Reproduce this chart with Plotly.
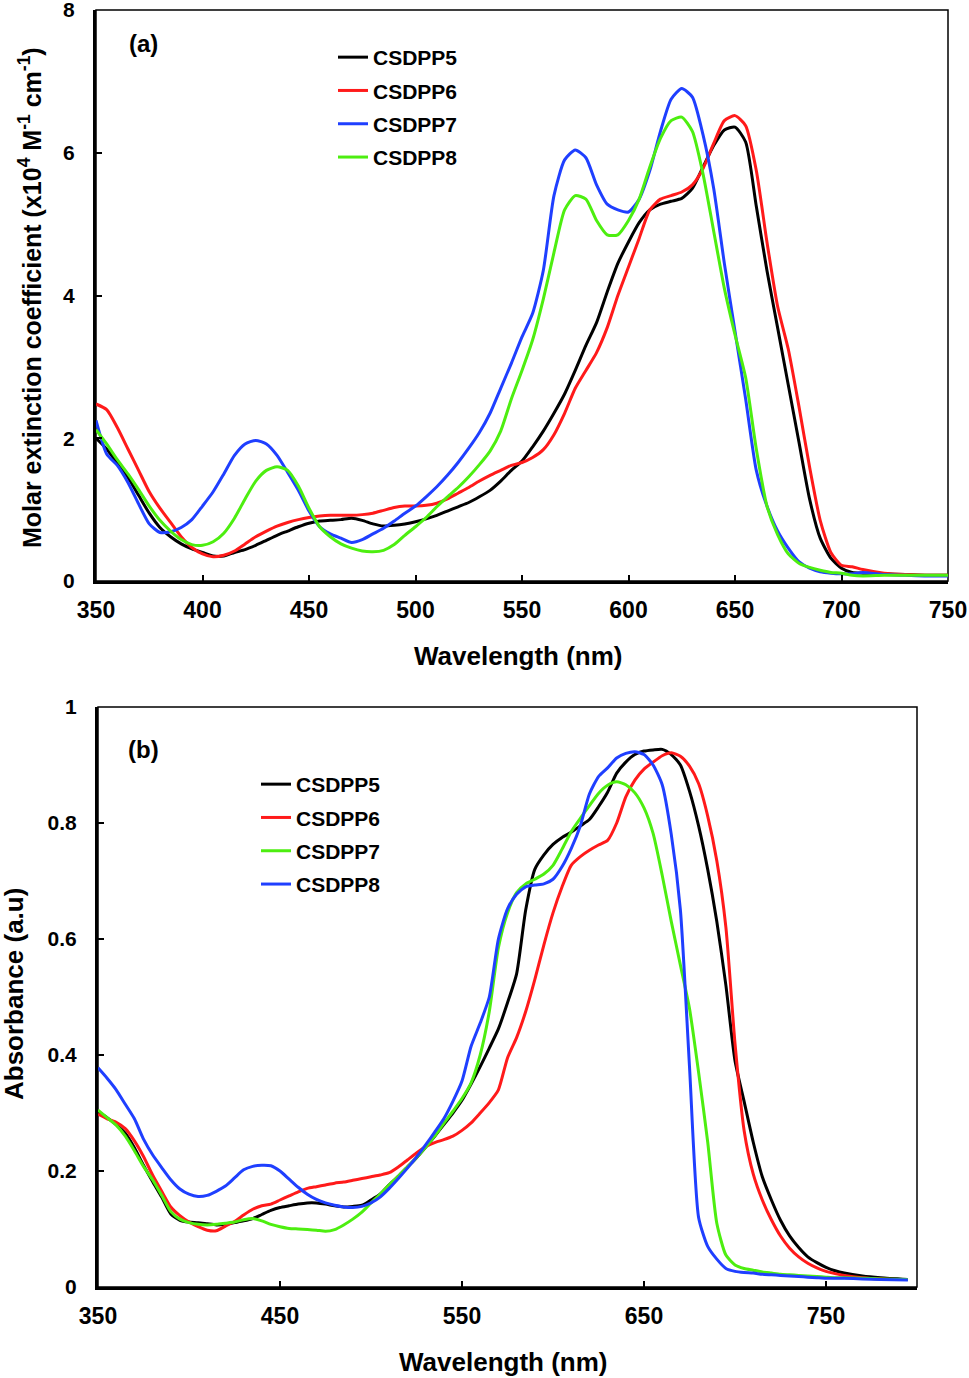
import plotly.graph_objects as go

# ---- panel (a): molar extinction coefficient (x10^4 M-1 cm-1) ----
wl_a = [350, 355, 360, 365, 370, 375, 380, 385, 390, 395,
        400, 405, 410, 415, 420, 425, 430, 435, 440, 445,
        450, 455, 460, 465, 470, 475, 480, 485, 490, 495,
        500, 505, 510, 515, 520, 525, 530, 535, 540, 545,
        550, 555, 560, 565, 570, 575, 580, 585, 590, 595,
        600, 605, 610, 615, 620, 625, 630, 635, 640, 645,
        650, 655, 660, 665, 670, 675, 680, 685, 690, 695,
        700, 705, 710, 720, 730, 740, 750]

eps_csdpp5 = [2.00, 1.85, 1.65, 1.45, 1.20, 0.95, 0.75, 0.62, 0.52, 0.45,
              0.40, 0.35, 0.35, 0.40, 0.44, 0.50, 0.57, 0.64, 0.70, 0.76,
              0.81, 0.84, 0.85, 0.86, 0.88, 0.85, 0.80, 0.77, 0.78, 0.80,
              0.83, 0.87, 0.92, 0.98, 1.04, 1.10, 1.18, 1.27, 1.40, 1.55,
              1.68, 1.88, 2.10, 2.35, 2.62, 2.95, 3.30, 3.62, 4.05, 4.45,
              4.75, 5.02, 5.20, 5.28, 5.32, 5.36, 5.50, 5.80, 6.10, 6.32,
              6.36, 6.15, 5.25, 4.35, 3.55, 2.75, 1.95, 1.15, 0.60, 0.32,
              0.18, 0.12, 0.11, 0.10, 0.09, 0.08, 0.08]

eps_csdpp6 = [2.48, 2.40, 2.15, 1.85, 1.55, 1.25, 1.02, 0.82, 0.62, 0.47,
              0.38, 0.34, 0.36, 0.42, 0.52, 0.62, 0.70, 0.77, 0.82, 0.86,
              0.89, 0.91, 0.92, 0.92, 0.92, 0.93, 0.95, 0.99, 1.03, 1.05,
              1.05, 1.06, 1.09, 1.15, 1.23, 1.31, 1.40, 1.48, 1.55, 1.62,
              1.66, 1.73, 1.84, 2.05, 2.35, 2.70, 2.95, 3.20, 3.55, 4.00,
              4.40, 4.80, 5.20, 5.35, 5.40, 5.45, 5.55, 5.78, 6.13, 6.45,
              6.52, 6.38, 5.75, 4.75, 3.85, 3.25, 2.45, 1.60, 0.85, 0.40,
              0.22, 0.20, 0.16, 0.11, 0.09, 0.08, 0.08]

eps_csdpp7 = [2.25, 1.78, 1.62, 1.38, 1.08, 0.80, 0.68, 0.69, 0.75, 0.86,
              1.05, 1.25, 1.50, 1.76, 1.92, 1.97, 1.92, 1.76, 1.52, 1.27,
              0.98, 0.76, 0.66, 0.60, 0.54, 0.58, 0.66, 0.74, 0.84, 0.95,
              1.05, 1.18, 1.32, 1.48, 1.66, 1.86, 2.08, 2.35, 2.70, 3.05,
              3.42, 3.75, 4.35, 5.40, 5.90, 6.04, 5.93, 5.55, 5.28, 5.20,
              5.17, 5.35, 5.75, 6.30, 6.75, 6.90, 6.78, 6.25, 5.50, 4.45,
              3.50, 2.55, 1.55, 1.05, 0.70, 0.46, 0.27, 0.18, 0.13, 0.11,
              0.10, 0.10, 0.12, 0.09, 0.08, 0.07, 0.07]

eps_csdpp8 = [2.12, 1.92, 1.70, 1.50, 1.28, 1.05, 0.85, 0.70, 0.58, 0.51,
              0.50, 0.55, 0.67, 0.88, 1.15, 1.40, 1.55, 1.60, 1.55, 1.33,
              1.02, 0.76, 0.62, 0.52, 0.46, 0.42, 0.41, 0.43, 0.51, 0.64,
              0.76, 0.89, 1.04, 1.18, 1.31, 1.46, 1.63, 1.82, 2.10, 2.55,
              2.95, 3.38, 3.95, 4.60, 5.20, 5.40, 5.35, 5.05, 4.85, 4.85,
              5.05, 5.35, 5.80, 6.20, 6.45, 6.50, 6.30, 5.70, 4.90, 4.10,
              3.45, 2.85, 1.85, 1.05, 0.65, 0.38, 0.25, 0.19, 0.15, 0.12,
              0.11, 0.08, 0.07, 0.08, 0.08, 0.08, 0.08]

# ---- panel (b): absorbance (a.u) ----
wl_b = [350, 355, 360, 365, 370, 375, 380, 385, 390, 395,
        400, 405, 410, 415, 420, 425, 430, 435, 440, 445,
        450, 455, 460, 465, 470, 475, 480, 485, 490, 495,
        500, 505, 510, 515, 520, 525, 530, 535, 540, 545,
        550, 555, 560, 565, 570, 575, 580, 585, 590, 595,
        600, 605, 610, 615, 620, 625, 630, 635, 640, 645,
        650, 655, 660, 665, 670, 675, 680, 685, 690, 695,
        700, 705, 710, 715, 720, 725, 730, 735, 740, 745,
        750, 755, 760, 770, 780, 795]

abs_csdpp5 = [0.302, 0.292, 0.280, 0.265, 0.240, 0.210, 0.182, 0.155, 0.126, 0.115,
              0.112, 0.111, 0.109, 0.107, 0.108, 0.111, 0.114, 0.118, 0.125, 0.132,
              0.137, 0.140, 0.143, 0.145, 0.145, 0.143, 0.140, 0.138, 0.139, 0.141,
              0.150, 0.160, 0.176, 0.191, 0.207, 0.223, 0.241, 0.260, 0.280, 0.300,
              0.322, 0.350, 0.380, 0.412, 0.445, 0.490, 0.540, 0.650, 0.720, 0.745,
              0.763, 0.775, 0.784, 0.795, 0.806, 0.828, 0.853, 0.886, 0.905, 0.918,
              0.924, 0.926, 0.927, 0.918, 0.900, 0.855, 0.795, 0.720, 0.630, 0.520,
              0.390, 0.320, 0.250, 0.190, 0.150, 0.115, 0.088, 0.068, 0.052, 0.042,
              0.034, 0.028, 0.024, 0.019, 0.016, 0.013]

abs_csdpp6 = [0.298, 0.290, 0.284, 0.273, 0.252, 0.225, 0.193, 0.165, 0.138, 0.123,
              0.112, 0.104, 0.098, 0.097, 0.105, 0.113, 0.124, 0.134, 0.140, 0.143,
              0.150, 0.157, 0.164, 0.170, 0.173, 0.176, 0.179, 0.181, 0.184, 0.187,
              0.190, 0.193, 0.197, 0.207, 0.219, 0.231, 0.242, 0.249, 0.254, 0.260,
              0.270, 0.283, 0.300, 0.318, 0.340, 0.395, 0.430, 0.475, 0.530, 0.590,
              0.645, 0.690, 0.727, 0.742, 0.753, 0.762, 0.770, 0.800, 0.845, 0.874,
              0.893, 0.905, 0.916, 0.921, 0.915, 0.898, 0.868, 0.812, 0.735, 0.620,
              0.420, 0.270, 0.195, 0.150, 0.116, 0.088, 0.067, 0.052, 0.041, 0.033,
              0.027, 0.023, 0.020, 0.016, 0.014, 0.013]

abs_csdpp7 = [0.305, 0.292, 0.279, 0.260, 0.235, 0.208, 0.185, 0.158, 0.130, 0.117,
              0.111, 0.108, 0.107, 0.108, 0.110, 0.112, 0.116, 0.118, 0.114, 0.108,
              0.104, 0.101, 0.100, 0.099, 0.098, 0.096, 0.099, 0.107, 0.117, 0.129,
              0.145, 0.160, 0.176, 0.191, 0.207, 0.223, 0.241, 0.260, 0.282, 0.303,
              0.325, 0.352, 0.400, 0.475, 0.585, 0.645, 0.680, 0.695, 0.703, 0.712,
              0.727, 0.755, 0.785, 0.808, 0.830, 0.851, 0.865, 0.871, 0.866, 0.852,
              0.826, 0.782, 0.710, 0.630, 0.555, 0.480, 0.370, 0.250, 0.110, 0.055,
              0.038, 0.032, 0.029, 0.026, 0.024, 0.022, 0.021, 0.020, 0.019, 0.018,
              0.017, 0.016, 0.016, 0.015, 0.014, 0.013]

abs_csdpp8 = [0.378, 0.360, 0.340, 0.315, 0.290, 0.255, 0.228, 0.206, 0.185, 0.169,
              0.160, 0.156, 0.158, 0.165, 0.174, 0.188, 0.202, 0.208, 0.210, 0.209,
              0.200, 0.186, 0.172, 0.160, 0.151, 0.145, 0.141, 0.138, 0.137, 0.139,
              0.145, 0.155, 0.170, 0.187, 0.205, 0.224, 0.245, 0.267, 0.290, 0.320,
              0.355, 0.415, 0.455, 0.500, 0.600, 0.652, 0.677, 0.690, 0.693, 0.695,
              0.703, 0.725, 0.756, 0.795, 0.850, 0.880, 0.895, 0.912, 0.920, 0.923,
              0.918, 0.900, 0.866, 0.780, 0.650, 0.380, 0.120, 0.070, 0.048, 0.032,
              0.027, 0.025, 0.024, 0.022, 0.021, 0.020, 0.019, 0.018, 0.017, 0.016,
              0.015, 0.015, 0.015, 0.014, 0.013, 0.012]

names = ["CSDPP5", "CSDPP6", "CSDPP7", "CSDPP8"]
colors_a = ["#000000", "#ff1a1a", "#1f3fff", "#4dee10"]
colors_b = ["#000000", "#ff1a1a", "#4dee10", "#1f3fff"]

FONT = "Liberation Sans, Arial, sans-serif"
W, H = 969, 1378


def px_x(p):
    return p / W


def px_y(p):
    return 1 - p / H


fig = go.Figure()

for name, col, ys in zip(names, colors_a, [eps_csdpp5, eps_csdpp6, eps_csdpp7, eps_csdpp8]):
    fig.add_trace(go.Scatter(x=wl_a, y=ys, name=name, mode="lines",
                             line=dict(color=col, width=3, shape="spline", smoothing=0.6),
                             xaxis="x", yaxis="y", legend="legend", legendgroup="a" + name))

for name, col, ys in zip(names, colors_b, [abs_csdpp5, abs_csdpp6, abs_csdpp7, abs_csdpp8]):
    fig.add_trace(go.Scatter(x=wl_b, y=ys, name=name, mode="lines",
                             line=dict(color=col, width=3, shape="spline", smoothing=0.6),
                             xaxis="x2", yaxis="y2", legend="legend2", legendgroup="b" + name))

axis_common = dict(showgrid=False, zeroline=False, showline=True, linecolor="black",
                   linewidth=3, ticks="inside", ticklen=6, tickwidth=2, tickcolor="black",
                   mirror=False, automargin=False, ticklabeloverflow="allow")

tick_x = dict(family=FONT, size=23, color="black", weight="bold")
tick_y = dict(family=FONT, size=21, color="black", weight="bold")
leg_font = dict(family=FONT, size=21, color="black", weight="bold")

fig.update_layout(
    width=W, height=H,
    margin=dict(l=0, r=0, t=0, b=0),
    paper_bgcolor="white", plot_bgcolor="white",
    showlegend=True,
    xaxis=dict(domain=[px_x(96), px_x(948)], range=[350, 750], tick0=350, dtick=50,
               anchor="y", tickfont=tick_x, ticklabelstandoff=6, **axis_common),
    yaxis=dict(domain=[px_y(581), px_y(10)], range=[0, 8], dtick=2,
               anchor="x", tickfont=tick_y, ticklabelstandoff=14, **axis_common),
    xaxis2=dict(domain=[px_x(98), px_x(917)], range=[350, 800], tick0=350, dtick=100,
                anchor="y2", tickfont=tick_x, ticklabelstandoff=6, **axis_common),
    yaxis2=dict(domain=[px_y(1287), px_y(707)], range=[0, 1], dtick=0.2,
                anchor="x2", tickfont=tick_y, ticklabelstandoff=14, **axis_common),
    legend=dict(x=px_x(333), y=px_y(37), xanchor="left", yanchor="top",
                font=leg_font, bgcolor="rgba(0,0,0,0)", tracegroupgap=3, itemwidth=30),
    legend2=dict(x=px_x(256), y=px_y(764), xanchor="left", yanchor="top",
                 font=leg_font, bgcolor="rgba(0,0,0,0)", tracegroupgap=3, itemwidth=30),
)

# thin frame on top and right of each panel
for xr, yr in [("x", "y"), ("x2", "y2")]:
    fig.add_shape(type="rect", xref=xr + " domain", yref=yr + " domain",
                  x0=0, x1=1, y0=0, y1=1, line=dict(color="black", width=1.5),
                  layer="below")

title_font = dict(family=FONT, size=26, color="black", weight="bold")
fig.add_annotation(x=px_x(30), y=px_y(298), xref="paper", yref="paper", showarrow=False,
                   text="Molar extinction coefficient (x10<sup>4</sup> M<sup>-1</sup> cm<sup>-1</sup>)",
                   textangle=-90, font=dict(family=FONT, size=25, color="black", weight="bold"),
                   xanchor="center", yanchor="middle")
fig.add_annotation(x=px_x(518), y=px_y(656), xref="paper", yref="paper", showarrow=False,
                   text="Wavelength (nm)", font=title_font, xanchor="center", yanchor="middle")
fig.add_annotation(x=px_x(14), y=px_y(994), xref="paper", yref="paper", showarrow=False,
                   text="Absorbance (a.u)", textangle=-90, font=title_font,
                   xanchor="center", yanchor="middle")
fig.add_annotation(x=px_x(503), y=px_y(1362), xref="paper", yref="paper", showarrow=False,
                   text="Wavelength (nm)", font=title_font, xanchor="center", yanchor="middle")

label_font = dict(family=FONT, size=24, color="black", weight="bold")
fig.add_annotation(x=px_x(143), y=px_y(43), xref="paper", yref="paper", showarrow=False,
                   text="(a)", font=label_font, xanchor="center", yanchor="middle")
fig.add_annotation(x=px_x(143), y=px_y(750), xref="paper", yref="paper", showarrow=False,
                   text="(b)", font=label_font, xanchor="center", yanchor="middle")

# the page would otherwise put the figure 8px in from the corner
fig.write_html("out.html", config={"displayModeBar": False},
               post_script="document.body.style.margin='0';")
